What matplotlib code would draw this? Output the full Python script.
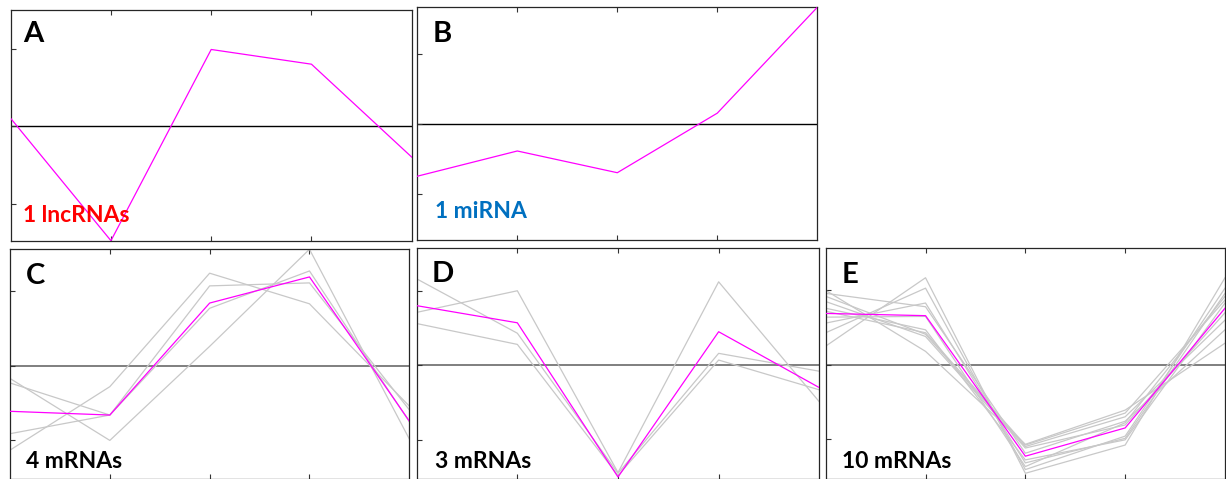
import matplotlib
matplotlib.use("Agg")
import matplotlib.pyplot as plt

# time points (five conditions) shared by every panel
time_points = [0, 1, 2, 3, 4]

# A: lncRNA cluster
lnc_mean = [0.10, -1.48, 0.99, 0.80, -0.40]

# B: miRNA cluster
mirna_mean = [-0.74, -0.38, -0.69, 0.16, 1.67]

# C: 4 mRNAs
c_genes = [
    [-0.17, -1.00, 0.26, 1.56, -0.98],
    [-1.13, -0.28, 1.24, 0.83, -0.54],
    [-0.91, -0.66, 1.07, 1.11, -0.59],
    [-0.23, -0.66, 0.77, 1.27, -0.75],
]
c_mean = [-0.61, -0.66, 0.84, 1.19, -0.74]

# D: 3 mRNAs
d_genes = [
    [1.16, 0.43, -1.45, 0.16, -0.08],
    [0.71, 1.00, -1.44, 1.12, -0.49],
    [0.56, 0.28, -1.48, 0.07, -0.33],
]
d_mean = [0.80, 0.57, -1.50, 0.45, -0.30]

# E: 10 mRNAs
e_genes = [
    [0.25, 1.17, -1.46, -1.08, 1.17],
    [1.00, 0.18, -1.07, -0.61, 0.29],
    [0.96, 0.78, -1.19, -0.76, 0.47],
    [0.43, 1.03, -1.41, -0.96, 1.03],
    [0.92, 0.41, -1.10, -0.70, 0.60],
    [0.85, 0.38, -1.12, -0.81, 0.70],
    [0.56, 0.83, -1.32, -0.99, 0.96],
    [0.76, 0.47, -1.28, -1.01, 0.83],
    [0.72, 0.43, -1.08, -0.65, 0.87],
    [0.64, 0.65, -1.37, -0.78, 0.92],
]
e_mean = [0.69, 0.66, -1.23, -0.85, 0.76]

panel_letters = ["A", "B", "C", "D", "E"]
panel_notes = ["1 lncRNAs", "1 miRNA", "4 mRNAs", "3 mRNAs", "10 mRNAs"]
note_colors = ["#ff0000", "#0070c0", "#000000", "#000000", "#000000"]

W, H = 1226, 479
fig = plt.figure(figsize=(W / 100, H / 100), dpi=100)
plt.rcParams["font.family"] = ["Lato", "DejaVu Sans"]

# panel boxes in pixels: left, right, top, bottom
boxes = [
    (10.7, 411.7, 10.0, 240.7),
    (417.3, 817.3, 7.3, 240.0),
    (10.0, 409.3, 249.3, 478.5),
    (416.7, 819.3, 248.3, 478.5),
    (825.7, 1225.0, 248.0, 478.5),
]
# label baselines (pixels from top of figure) and left positions
letter_pos = [(23, 42.3), (432.5, 41.7), (25.5, 284.3), (431.5, 282.5), (841.5, 282.7)]
note_pos = [(22.7, 221.7), (435, 218.5), (26, 468.3), (435, 467.5), (842, 468.0)]

ylims = [(-1.48, 1.50), (-1.65, 1.67), (-1.51, 1.56), (-1.52, 1.57), (-1.53, 1.57)]
genes_all = [[], [], c_genes, d_genes, e_genes]
means = [lnc_mean, mirna_mean, c_mean, d_mean, e_mean]
zero_styles = [("#000000", 1.0), ("#000000", 1.0),
               ("#7f7f7f", 1.4), ("#7f7f7f", 1.4), ("#7f7f7f", 1.4)]

for i in range(5):
    l, r, t, b = boxes[i]
    ax = fig.add_axes([l / W, 1 - b / H, (r - l) / W, (b - t) / H])
    ax.set_xlim(time_points[0], time_points[-1])
    ax.set_ylim(*ylims[i])
    for g in genes_all[i]:
        ax.plot(time_points, g, color="#c8c8c8", lw=0.9, zorder=2)
    zc, zw = zero_styles[i]
    ax.axhline(0, color=zc, lw=zw, zorder=1)
    ax.plot(time_points, means[i], color="#ff00ff", lw=0.9, zorder=3)
    ax.set_xticks([1, 2, 3])
    ax.set_yticks([-1, 0, 1])
    ax.tick_params(direction="in", length=3.5, width=0.8, color="#333333",
                   top=True, bottom=True, left=True, right=False,
                   labelbottom=False, labelleft=False)
    for s in ax.spines.values():
        s.set_color("#262626")
        s.set_linewidth(0.9)

    lx, ly = letter_pos[i]
    fig.text(lx / W, 1 - ly / H, panel_letters[i],
             fontsize=21, fontweight="bold", color="black", va="baseline", ha="left")
    nx, ny = note_pos[i]
    fig.text(nx / W, 1 - ny / H, panel_notes[i],
             fontsize=16.5, fontweight="bold", color=note_colors[i], va="baseline", ha="left")

fig.savefig("out.png", dpi=100)
